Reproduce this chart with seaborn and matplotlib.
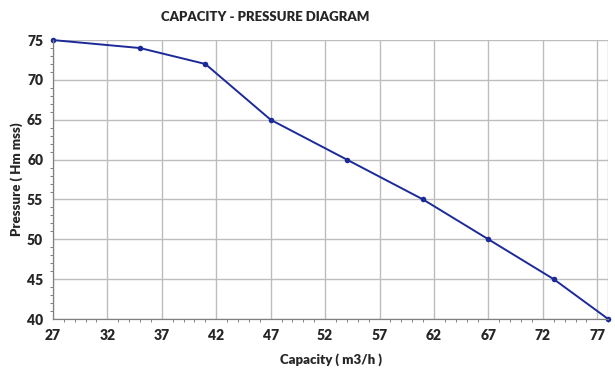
import matplotlib
matplotlib.use("Agg")
import matplotlib.pyplot as plt
import seaborn as sns
import pandas as pd
from matplotlib.ticker import MultipleLocator, FixedLocator

# === data ===
capacity = [27, 35, 41, 47, 54, 61, 67, 73, 78]
pressure = [75, 74, 72, 65, 60, 55, 50, 45, 40]
x_ticks = [27, 32, 37, 42, 47, 52, 57, 62, 67, 72, 77]
y_ticks = [40, 45, 50, 55, 60, 65, 70, 75]

df = pd.DataFrame({"Capacity": capacity, "Pressure": pressure})

sns.set_theme(style="white")
plt.rcParams["font.family"] = ["Lato", "DejaVu Sans"]

fig = plt.figure(figsize=(6.15, 3.71), dpi=100)
ax = fig.add_axes([0.086, 0.140, 0.903, 0.752])

sns.lineplot(data=df, x="Capacity", y="Pressure", ax=ax,
             color="#1c2a99", linewidth=1.4, marker="o", markersize=4,
             markeredgewidth=0, clip_on=False)

ax.set_xlim(27, 78)
ax.set_ylim(40, 75)
ax.xaxis.set_major_locator(FixedLocator(x_ticks))
ax.xaxis.set_minor_locator(MultipleLocator(1))
ax.yaxis.set_major_locator(FixedLocator(y_ticks))
ax.yaxis.set_minor_locator(MultipleLocator(1))

ax.grid(True, which="major", color="#bdbdbd", linewidth=1.0)
ax.axvline(78, color="#bdbdbd", linewidth=1.0, zorder=0)

for side in ["top", "right"]:
    ax.spines[side].set_visible(False)
for side in ["left", "bottom"]:
    ax.spines[side].set_color("#808080")
    ax.spines[side].set_linewidth(0.9)

ax.tick_params(which="major", direction="out", length=4, width=0.8,
               color="#808080", labelsize=10, pad=3)
ax.tick_params(which="minor", direction="out", length=2.5, width=0.7,
               color="#808080", left=True, bottom=True)
for lab in ax.get_xticklabels() + ax.get_yticklabels():
    lab.set_fontweight("heavy")

ax.set_xlabel("Capacity ( m3/h )", fontsize=9.5, fontweight="heavy", labelpad=8)
ax.set_ylabel("Pressure ( Hm mss)", fontsize=9.5, fontweight="heavy", labelpad=3)

fig.text(0.432, 0.955, "CAPACITY - PRESSURE DIAGRAM", ha="center", va="center",
         fontsize=9.5, fontweight="heavy")

fig.savefig("out.png", dpi=100)
plt.close(fig)
